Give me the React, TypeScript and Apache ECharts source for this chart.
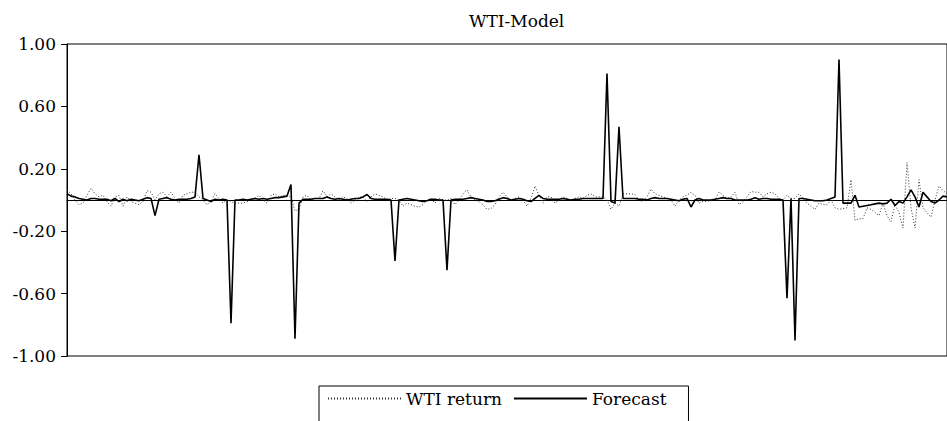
import { useEffect, useRef } from "react";
import * as echarts from "echarts";

// Observed WTI returns (dotted line)
const WTI_RETURN = [
  0.065, 0.04, 0.0, -0.03, -0.02, 0.03, 0.075, 0.04, 0.02, 0.03,
  -0.01, -0.04, 0.02, 0.03, -0.04, 0.02, -0.01, -0.02, -0.03, -0.01,
  0.06, 0.05, 0.0, 0.04, 0.05, 0.02, 0.05, 0.01, -0.02, 0.03,
  0.04, 0.05, 0.05, 0.02, 0.0, -0.03, -0.01, 0.04, 0.01, -0.02,
  0.0, -0.01, -0.02, -0.02, -0.02, -0.01, 0.0, 0.01, 0.03, 0.0,
  -0.02, 0.03, 0.04, 0.02, 0.03, 0.03, 0.02, -0.07, -0.06, 0.02,
  0.03, 0.0, 0.01, 0.01, 0.06, 0.02, 0.04, 0.02, 0.0, 0.02,
  0.01, -0.02, 0.0, 0.02, 0.02, -0.01, 0.02, 0.04, 0.03, 0.02,
  0.0, 0.01, 0.01, 0.0, -0.04, -0.02, -0.03, -0.04, -0.045, -0.03,
  0.0, 0.01, -0.02, 0.01, 0.0, 0.0, 0.01, -0.03, 0.0, 0.04,
  0.065, 0.02, 0.0, -0.01, -0.03, -0.06, -0.055, -0.03, 0.02, 0.05,
  0.02, 0.0, 0.01, 0.02, 0.0, -0.04, 0.01, 0.09, 0.03, -0.02,
  0.02, 0.02, -0.02, 0.0, 0.02, 0.01, 0.0, 0.01, 0.02, 0.01,
  0.03, 0.04, 0.02, 0.02, 0.02, 0.0, -0.06, -0.02, -0.04, 0.04,
  0.04, 0.04, 0.035, 0.0, -0.01, 0.02, 0.07, 0.04, 0.03, 0.02,
  0.01, 0.0, -0.04, 0.0, 0.02, 0.03, 0.05, 0.03, -0.02, -0.01,
  -0.01, 0.0, 0.0, 0.05, 0.03, 0.01, 0.02, 0.05, -0.03, -0.01,
  0.02, 0.055, 0.05, 0.05, 0.02, 0.04, 0.05, 0.04, 0.01, 0.0,
  0.03, 0.01, 0.01, 0.04, 0.01, -0.02, -0.04, -0.06, -0.02, -0.03,
  -0.03, 0.0, -0.05, -0.06, -0.055, -0.05, 0.13, -0.13, -0.12, -0.12,
  -0.05, -0.06, -0.08, -0.1, -0.02, -0.1, -0.14, -0.03, -0.08, -0.18,
  0.24, -0.05, -0.18, 0.13, -0.05, -0.08, -0.11, 0.0, 0.09, 0.06, 0.04,
];

// Model forecast (solid line)
const FORECAST = [
  0.04, 0.025, 0.02, 0.01, 0.005, 0.0, 0.01, 0.01, 0.005, 0.005,
  0.005, -0.005, 0.01, -0.01, 0.005, -0.005, 0.005, 0.0, -0.005, 0.005,
  0.015, 0.01, -0.1, 0.005, 0.01, 0.015, 0.005, 0.0, 0.005, 0.005,
  0.005, 0.01, 0.02, 0.29, 0.01, 0.0, -0.01, 0.005, 0.0, 0.005,
  0.0, -0.79, 0.0, 0.0, 0.005, 0.0, 0.005, 0.01, 0.005, 0.01,
  0.005, 0.01, 0.015, 0.015, 0.02, 0.025, 0.1, -0.89, -0.02, 0.005,
  0.005, 0.005, 0.01, 0.01, 0.01, 0.02, 0.01, 0.005, 0.01, 0.005,
  0.0, 0.005, 0.01, 0.01, 0.02, 0.035, 0.01, 0.005, 0.005, 0.005,
  0.005, 0.0, -0.39, 0.0, 0.005, 0.01, 0.005, 0.0, -0.005, -0.01,
  -0.005, 0.005, 0.005, 0.0, 0.0, -0.45, 0.0, 0.005, 0.005, 0.005,
  0.01, 0.015, 0.01, 0.005, 0.0, -0.01, -0.01, -0.005, 0.005, 0.015,
  0.01, 0.0, 0.005, 0.01, 0.005, -0.005, -0.01, 0.01, 0.03, 0.01,
  0.005, 0.005, 0.005, 0.005, 0.01, 0.005, 0.0, 0.005, 0.005, 0.01,
  0.01, 0.01, 0.01, 0.01, 0.01, 0.81, -0.01, -0.02, 0.47, 0.01,
  0.01, 0.01, 0.01, 0.005, 0.005, 0.0, 0.01, 0.015, 0.01, 0.01,
  0.01, 0.005, 0.0, -0.005, 0.005, 0.01, -0.045, 0.0, 0.01, 0.0,
  0.0, 0.0, 0.005, 0.01, 0.015, 0.01, 0.01, 0.0, 0.0, 0.0,
  0.0, 0.005, 0.015, 0.005, 0.01, 0.01, 0.005, 0.005, 0.005, 0.0,
  -0.63, 0.01, -0.9, 0.01, 0.01, 0.005, 0.0, -0.005, -0.005, -0.005,
  0.0, 0.01, 0.02, 0.9, -0.02, -0.02, -0.02, 0.03, -0.045, -0.04,
  -0.035, -0.03, -0.025, -0.02, -0.025, -0.02, 0.005, -0.035, -0.01, -0.02,
  0.02, 0.065, 0.02, -0.045, 0.05, 0.02, -0.01, -0.02, 0.0, 0.025, 0.02,
];

const PERIODS = WTI_RETURN.map((_, i) => String(i + 1));

const Y_MIN = -1;
const Y_MAX = 1;
const Y_STEP = 0.4;

const FONT = "DejaVu Serif";

export default function App() {
  const ref = useRef<HTMLDivElement>(null);

  useEffect(() => {
    document.body.style.margin = "0";
    const chart = echarts.init(ref.current!, undefined, { renderer: "svg" });
    chart.setOption({
      animation: false,
      backgroundColor: "#fff",
      textStyle: { fontFamily: FONT, color: "#000" },
      title: {
        text: "WTI-Model",
        left: 464,
        top: 7,
        textStyle: { fontFamily: FONT, fontSize: 17, fontWeight: "normal", color: "#000" },
      },
      legend: {
        left: 319,
        top: 386,
        orient: "horizontal",
        itemWidth: 73,
        itemHeight: 12,
        itemGap: 11,
        padding: [4, 22, 40, 8],
        borderColor: "#000",
        borderWidth: 1,
        // only the line sample is shown, no marker on it
        itemStyle: { opacity: 0 },
        textStyle: { fontFamily: FONT, fontSize: 17, color: "#000" },
        data: ["WTI return", "Forecast"],
      },
      grid: {
        show: true,
        left: 67,
        top: 44,
        right: -3,
        bottom: 65,
        borderColor: "#000",
        borderWidth: 1,
        backgroundColor: "transparent",
      },
      xAxis: {
        type: "category",
        data: PERIODS,
        boundaryGap: false,
        axisLine: { onZero: true, lineStyle: { color: "#000", width: 1 } },
        axisTick: { show: false },
        axisLabel: { show: false },
        splitLine: { show: false },
      },
      yAxis: {
        type: "value",
        min: Y_MIN,
        max: Y_MAX,
        interval: Y_STEP,
        axisLine: { show: true, lineStyle: { color: "#000", width: 1 } },
        axisTick: { show: true, inside: false, length: 6, lineStyle: { color: "#000" } },
        axisLabel: {
          margin: 11,
          fontFamily: FONT,
          fontSize: 17,
          color: "#000",
          formatter: (v: number) => v.toFixed(2),
        },
        splitLine: { show: false },
      },
      series: [
        {
          name: "WTI return",
          type: "line",
          data: WTI_RETURN,
          symbol: "none",
          lineStyle: { color: "#333", width: 1, type: [1, 2] },
          itemStyle: { color: "#333" },
        },
        {
          name: "Forecast",
          type: "line",
          data: FORECAST,
          symbol: "none",
          lineStyle: { color: "#000", width: 1.6 },
          itemStyle: { color: "#000" },
        },
      ],
    });
    return () => chart.dispose();
  }, []);

  return <div ref={ref} style={{ width: 947, height: 421 }} />;
}
